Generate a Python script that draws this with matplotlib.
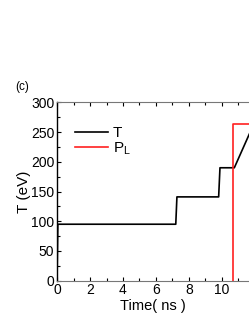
import matplotlib.pyplot as plt
from matplotlib.ticker import MultipleLocator

plt.rcParams['font.family'] = ['Liberation Sans', 'DejaVu Sans']

# temperature T (eV) vs time (ns)
t_time = [0, 0.05, 7.2, 7.27, 9.8, 9.88, 10.75, 12.0]
t_vals = [0, 95, 95, 141, 141, 190, 190, 268]
# laser pulse P_L
p_time = [10.7, 10.7, 14.0]
p_vals = [0, 263, 263]

fig = plt.figure(figsize=(2.49, 3.23), dpi=100)
ax = fig.add_axes([0.229, 0.131, 0.771, 0.552])

ax.plot(t_time, t_vals, color='black', lw=1.2, label='T')
ax.plot(p_time, p_vals, color='#ff2020', lw=1.2, label=r'P$_\mathregular{L}$')

ax.set_xlim(0, 11.64)
ax.set_ylim(0, 300)
ax.xaxis.set_major_locator(MultipleLocator(2))
ax.xaxis.set_minor_locator(MultipleLocator(1))
ax.yaxis.set_major_locator(MultipleLocator(50))
ax.yaxis.set_minor_locator(MultipleLocator(25))
ax.tick_params(which='both', direction='in', top=True, labelsize=10, pad=2)
ax.tick_params(which='major', length=3, width=0.8)
ax.tick_params(which='minor', length=2, width=0.8)
for s in ['bottom', 'top']:
    ax.spines[s].set_color('#777777')
ax.spines['right'].set_visible(False)
ax.spines['left'].set_linewidth(1.0)

ax.set_xlabel('Time( ns )', fontsize=10.5, labelpad=1)
ax.set_ylabel('T (eV)', fontsize=11, labelpad=0)

ax.legend(loc='upper left', bbox_to_anchor=(0.02, 0.945), frameon=False,
          fontsize=11, handlelength=2.2, handletextpad=0.3, labelspacing=0.05)

fig.text(0.06, 0.72, '(c)', fontsize=8.5)

fig.savefig('out.png', dpi=100)
